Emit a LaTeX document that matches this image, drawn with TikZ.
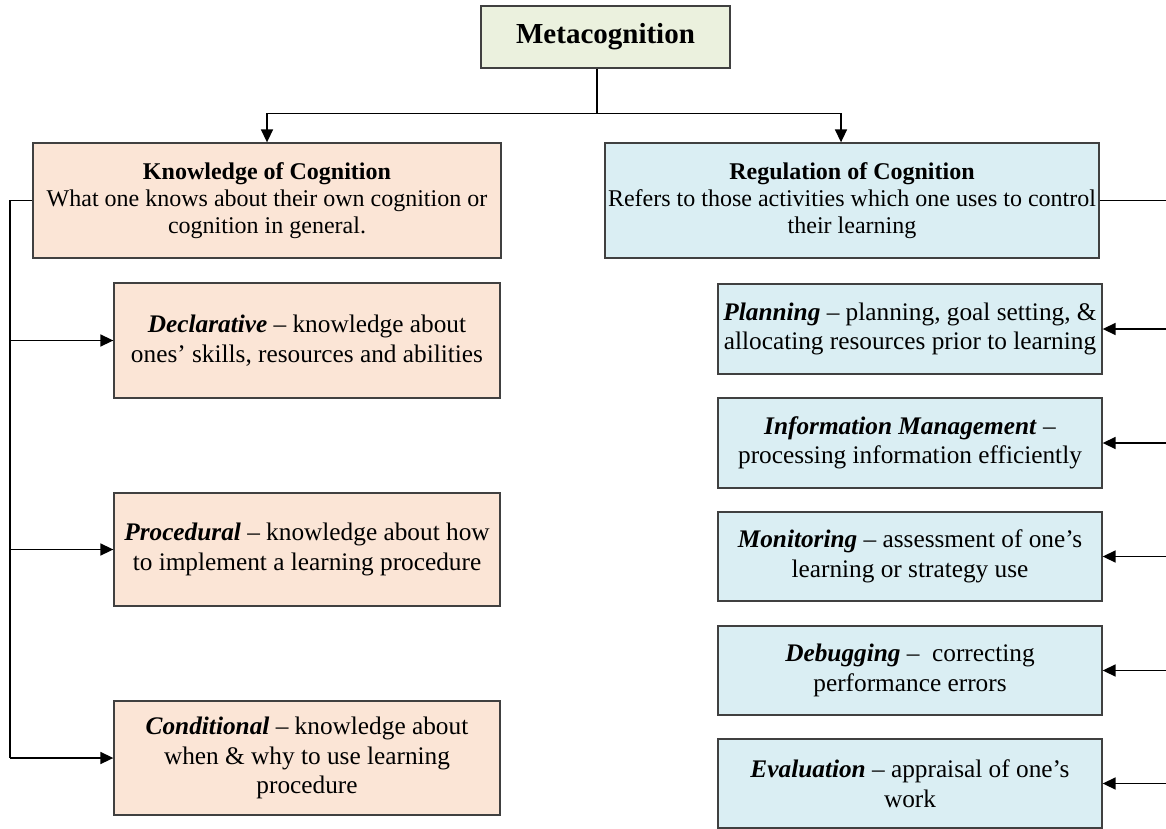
\documentclass[tikz,border=0pt]{standalone}
\usepackage{fontspec}
\setmainfont{Liberation Serif}
\usetikzlibrary{arrows.meta}
\definecolor{metafill}{HTML}{EBF1DE}
\definecolor{kfill}{HTML}{FBE5D6}
\definecolor{rfill}{HTML}{DAEEF3}
\definecolor{bordercol}{HTML}{404040}
\tikzset{
  box/.style={draw=bordercol, line width=1.3pt, rectangle, align=center, inner sep=0pt,
    font=\fontsize{24}{27}\selectfont},
  subbox/.style={box, font=\fontsize{25.3}{29.5}\selectfont},
  kbox/.style={subbox, fill=kfill, minimum width=386pt},
  rbox/.style={subbox, fill=rfill, minimum width=384pt, minimum height=90pt},
  conn/.style={line width=1.6pt, draw=black},
  arr/.style={conn, -{Triangle[length=13pt,width=12pt]}},
}
\begin{document}
\begin{tikzpicture}[x=1pt,y=-1pt]
\useasboundingbox (0,0) rectangle (1166,829);
\clip (0,0) rectangle (1166,829);

\node[box, fill=metafill, minimum width=249pt, minimum height=62pt,
  font=\fontsize{29}{33}\selectfont\bfseries] (meta) at (605.5,37) {Metacognition};

\node[box, fill=kfill, minimum width=468pt, minimum height=115pt] (know) at (267,200.5)
  {\textbf{Knowledge of Cognition}\\What one knows about their own cognition or\\cognition in general.};
\node[box, fill=rfill, minimum width=494pt, minimum height=115pt] (reg) at (852,200.5)
  {\textbf{Regulation of Cognition}\\Refers to those activities which one uses to control\\their learning};

\node[kbox, minimum height=115pt] (decl) at (307,340.5)
  {\textbf{\textit{Declarative}} – knowledge about\\ones’ skills, resources and abilities};
\node[kbox, minimum height=113pt] (proc) at (307,549.5)
  {\textbf{\textit{Procedural}} – knowledge about how\\to implement a learning procedure};
\node[kbox, minimum height=114pt] (cond) at (307,758)
  {\textbf{\textit{Conditional}} – knowledge about\\when \& why to use learning\\procedure};

\node[rbox] (plan) at (910,329)
  {\textbf{\textit{Planning}} – planning, goal setting, \&\\allocating resources prior to learning};
\node[rbox] (info) at (910,443)
  {\textbf{\textit{Information Management}} –\\processing information efficiently};
\node[rbox, minimum height=89pt] (moni) at (910,556.5)
  {\textbf{\textit{Monitoring}} – assessment of one’s\\learning or strategy use};
\node[rbox, minimum height=89pt] (debug) at (910,670.5)
  {\textbf{\textit{Debugging}} –\ \ correcting\\performance errors};
\node[rbox, minimum height=89pt] (eval) at (910,783.5)
  {\textbf{\textit{Evaluation}} – appraisal of one’s\\work};

% top connectors
\coordinate (split) at (597,113.5);
\draw[conn] (meta.south -| split) -- (split);
\draw[arr] (split) -| (know.north);
\draw[arr] (split) -| ([xshift=-11pt]reg.north);

% left bus
\coordinate (lv) at (10,200.5);
\draw[conn] (know.west) -- (lv) -- (lv |- cond.west);
\draw[arr] (lv |- decl.west) -- (decl.west);
\draw[arr] (lv |- proc.west) -- (proc.west);
\draw[arr] (lv |- cond.west) -- (cond.west);

% right bus
\coordinate (rv) at (1168,200.5);
\draw[conn] (reg.east) -- (rv) -- (rv |- eval.east);
\draw[arr] (rv |- plan.east) -- (plan.east);
\draw[arr] (rv |- info.east) -- (info.east);
\draw[arr] (rv |- moni.east) -- (moni.east);
\draw[arr] (rv |- debug.east) -- (debug.east);
\draw[arr] (rv |- eval.east) -- (eval.east);
\end{tikzpicture}
\end{document}
